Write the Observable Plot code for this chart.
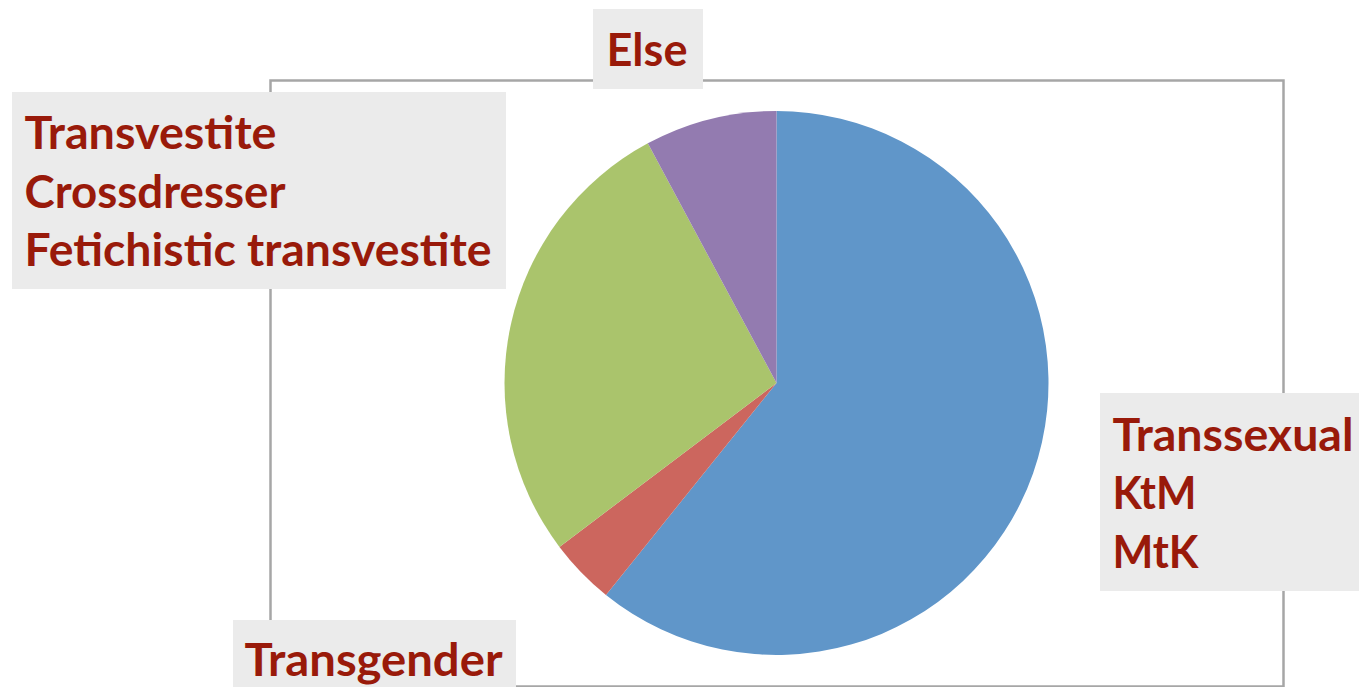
<!DOCTYPE html>
<html><head><meta charset="utf-8">
<script src="https://cdn.jsdelivr.net/npm/d3@7"></script>
<script src="https://cdn.jsdelivr.net/npm/@observablehq/plot@0.6"></script>
<style>html,body{margin:0;padding:0;background:#fff;overflow:hidden}</style>
</head><body><div id="chart"></div>
<script>
// ---- data ----
const categories = ["Transsexual", "Transgender", "Transvestite", "Else"];
const values = [31, 2, 14, 4];
const sliceColors = ["#6096c9", "#cc665e", "#aac46c", "#937bb0"];
const labelLines = [
  ["Transsexual", "KtM", "MtK"],
  ["Transgender"],
  ["Transvestite", "Crossdresser", "Fetichistic transvestite"],
  ["Else"]
];

// ---- layout ----
const W = 1359, H = 687;
const M = {top: 80, right: 76, bottom: 1, left: 270};
const radius = 272;
const boxes = [
  {x1: 1100, x2: 1359, y1: 393, y2: 591, tx: 1112, base: [450, 508, 567]},
  {x1: 233, x2: 516, y1: 620, y2: 687, tx: 244, base: [675]},
  {x1: 12, x2: 506, y1: 92, y2: 289, tx: 24, base: [148, 207, 265]},
  {x1: 593, x2: 703, y1: 9, y2: 89, tx: 606, base: [65]}
];
const textWidths = {"Transsexual": 241, "KtM": 84, "MtK": 86, "Transgender": 258,
  "Transvestite": 252, "Crossdresser": 261, "Fetichistic transvestite": 467, "Else": 81};

const slices = categories.map((c, i) => ({category: c, value: values[i], color: sliceColors[i]}));
const boxData = boxes.map((b, i) => ({...b, category: categories[i]}));
const lineData = boxes.flatMap((b, i) => labelLines[i].map((t, j) => ({text: t, x: b.tx, y: b.base[j]})));

function pieMark() {
  const cx = M.left + (W - M.left - M.right) / 2;
  const cy = M.top + (H - M.top - M.bottom) / 2;
  const arcs = d3.pie().sort(null).value(d => d.value)(slices);
  const arc = d3.arc().innerRadius(0).outerRadius(radius);
  const g = d3.create("svg:g").attr("transform", `translate(${cx},${cy})`);
  g.selectAll("path").data(arcs).join("path")
    .attr("d", arc).attr("fill", d => d.data.color);
  return g.node();
}

const chart = Plot.plot({
  width: W, height: H,
  marginTop: M.top, marginRight: M.right, marginBottom: M.bottom, marginLeft: M.left,
  x: {type: "identity", axis: null},
  y: {type: "identity", axis: null},
  style: {background: "#ffffff", overflow: "visible"},
  marks: [
    Plot.frame({stroke: "#a6a6a6", strokeWidth: 2.5}),
    pieMark,
    Plot.rect(boxData, {x1: "x1", x2: "x2", y1: "y1", y2: "y2", fill: "#ebebeb"}),
    Plot.text(lineData, {x: "x", y: "y", text: "text", textAnchor: "start", lineAnchor: "bottom",
      fill: "#991a0a", fontSize: 46, fontWeight: "bold", fontFamily: "Lato"})
  ]
});
d3.select(chart).selectAll("text").each(function () {
  const w = textWidths[this.textContent];
  if (w) { this.setAttribute("textLength", w); this.setAttribute("lengthAdjust", "spacingAndGlyphs"); }
});
document.getElementById("chart").appendChild(chart);
</script>
</body></html>
